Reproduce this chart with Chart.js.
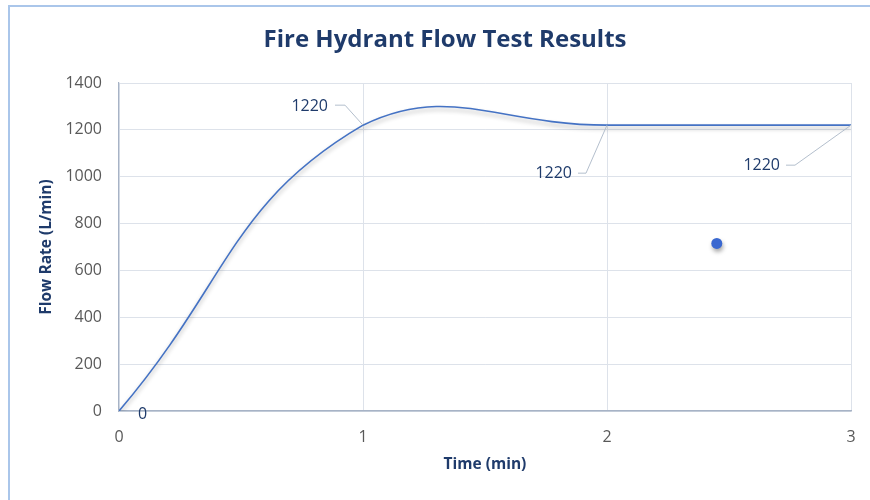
<!DOCTYPE html>
<html>
<head>
<meta charset="utf-8">
<script src="https://cdn.jsdelivr.net/npm/chart.js@4.4.1/dist/chart.umd.min.js"></script>
<style>
  html, body { margin: 0; padding: 0; background: #ffffff; }
  #wrap { width: 870px; height: 500px; position: relative; }
</style>
</head>
<body>
<div id="wrap"><canvas id="c" width="870" height="500"></canvas></div>
<script>
// ---- data ----
const timeMin = [0, 1, 2, 3];
const flowRate = [0, 1220, 1220, 1220];
const pointLabels = ['0', '1220', '1220', '1220'];
const extraTime = [2.45];
const extraFlow = [715];
const yTicks = [0, 200, 400, 600, 800, 1000, 1200, 1400];
const xTicks = [0, 1, 2, 3];
const chartTitle = 'Fire Hydrant Flow Test Results';

const FONT = "'Open Sans', 'Liberation Sans', sans-serif";
const DARK = '#1f3b6b';
const TICK = '#595959';

const linePoints = timeMin.map((t, i) => ({ x: t, y: flowRate[i] }));
const dotPoints = extraTime.map((t, i) => ({ x: t, y: extraFlow[i] }));

// label placement (offsets relative to the anchor point, in px)
const labelStyle = [
  { dx: 19, dy: 3, leader: null, align: 'left' },
  { dx: -35, dy: -19, leader: [[-18, -20], [-28, -20]], align: 'right' },
  { dx: -35, dy: 48, leader: [[-21, 48], [-29, 48]], align: 'right' },
  { dx: -71, dy: 40, leader: [[-56, 40], [-65, 40]], align: 'right' }
];

const framePlugin = {
  id: 'frame',
  beforeDraw(chart) {
    const ctx = chart.ctx;
    ctx.save();
    ctx.fillStyle = '#ffffff';
    ctx.fillRect(0, 0, chart.width, chart.height);
    ctx.strokeStyle = '#aac6ea';
    ctx.lineWidth = 2;
    ctx.beginPath();
    ctx.moveTo(9, 500);
    ctx.lineTo(9, 6);
    ctx.lineTo(870, 6);
    ctx.stroke();
    // chart title
    ctx.fillStyle = DARK;
    ctx.font = "bold 24px " + FONT;
    ctx.textAlign = 'center';
    ctx.textBaseline = 'middle';
    ctx.fillText(chartTitle, 445, 40);
    ctx.restore();
  }
};

const shadowPlugin = {
  id: 'shadow',
  beforeDatasetDraw(chart, args) {
    const ctx = chart.ctx;
    ctx.save();
    ctx.shadowColor = args.index === 0 ? 'rgba(0,0,0,0.30)' : 'rgba(0,0,0,0.35)';
    ctx.shadowBlur = 4;
    ctx.shadowOffsetX = args.index === 0 ? 0 : 1;
    ctx.shadowOffsetY = 3;
  },
  afterDatasetDraw(chart) {
    chart.ctx.restore();
  }
};

const labelPlugin = {
  id: 'pointLabels',
  afterDatasetsDraw(chart) {
    const ctx = chart.ctx;
    const xs = chart.scales.x, ys = chart.scales.y;
    ctx.save();
    timeMin.forEach((t, i) => {
      const px = xs.getPixelForValue(t);
      const py = ys.getPixelForValue(flowRate[i]);
      const st = labelStyle[i];
      if (st.leader) {
        ctx.strokeStyle = '#b4bfcd';
        ctx.lineWidth = 1;
        ctx.beginPath();
        ctx.moveTo(px, py);
        ctx.lineTo(px + st.leader[0][0], py + st.leader[0][1]);
        ctx.lineTo(px + st.leader[1][0], py + st.leader[1][1]);
        ctx.stroke();
      }
      ctx.fillStyle = DARK;
      ctx.font = "16px " + FONT;
      ctx.textAlign = st.align;
      ctx.textBaseline = 'middle';
      ctx.fillText(pointLabels[i], px + st.dx, py + st.dy);
    });
    ctx.restore();
  }
};

new Chart(document.getElementById('c'), {
  type: 'scatter',
  data: {
    datasets: [
      {
        data: linePoints,
        showLine: true,
        borderColor: '#4472c4',
        borderWidth: 1.6,
        pointRadius: 0,
        tension: 0.45,
        fill: false
      },
      {
        data: dotPoints,
        showLine: false,
        pointRadius: 5.5,
        pointBackgroundColor: '#3a68d0',
        pointBorderColor: '#3a68d0',
        pointBorderWidth: 0
      }
    ]
  },
  options: {
    responsive: false,
    animation: false,
    devicePixelRatio: 1,
    layout: { padding: { left: 0, right: 19, top: 83, bottom: 0 } },
    plugins: {
      legend: { display: false },
      tooltip: { enabled: false },
      title: { display: false }
    },
    scales: {
      x: {
        type: 'linear',
        min: 0, max: 3,
        afterBuildTicks(scale) { scale.ticks = xTicks.map(v => ({ value: v })); },
        afterFit(scale) { scale.height = 89; scale.paddingRight = 0; scale.paddingLeft = 0; },
        ticks: { color: TICK, font: { family: FONT, size: 16 }, padding: 17, callback: v => String(v) },
        grid: { color: '#dde2ea', lineWidth: 1, drawTicks: false },
        border: { color: '#a7b3c6', width: 1.5 },
        title: {
          display: true,
          text: 'Time (min)',
          color: DARK,
          font: { family: FONT, size: 15.5, weight: 'bold', lineHeight: 1.2 },
          padding: { top: 0, bottom: 26 }
        }
      },
      y: {
        type: 'linear',
        min: 0, max: 1400,
        afterBuildTicks(scale) { scale.ticks = yTicks.map(v => ({ value: v })); },
        afterFit(scale) { scale.width = 119; },
        ticks: { color: TICK, font: { family: FONT, size: 16 }, padding: 17, callback: v => String(v) },
        grid: { color: '#dde2ea', lineWidth: 1, drawTicks: false },
        border: { color: '#a7b3c6', width: 1.2 },
        title: {
          display: true,
          text: 'Flow Rate (L/min)',
          color: DARK,
          font: { family: FONT, size: 15.5, weight: 'bold', lineHeight: 1.2 },
          padding: { top: 37, bottom: 0 }
        }
      }
    }
  },
  plugins: [framePlugin, shadowPlugin, labelPlugin]
});
</script>
</body>
</html>
